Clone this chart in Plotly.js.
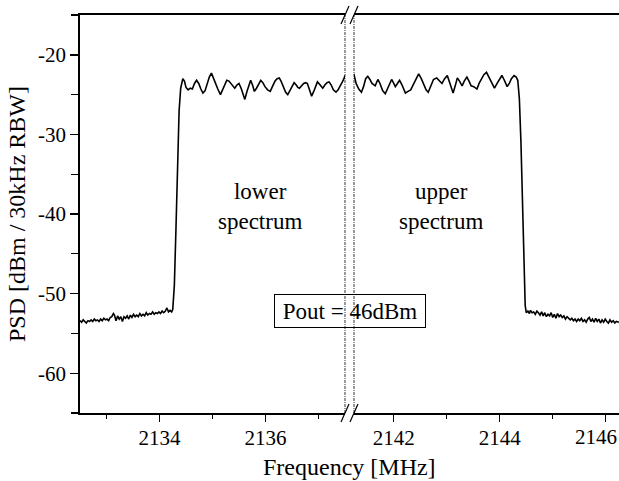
<!DOCTYPE html>
<html>
<head>
<meta charset="utf-8">
<script src="https://cdn.plot.ly/plotly-3.0.1.min.js"></script>
<style>html,body{margin:0;padding:0;background:#fff;}#chart{width:619px;height:481px;}</style>
</head>
<body>
<div id="chart"></div>
<script>
// ---- data ----
const lowerFreq = [
 2132.50,2132.53,2132.56,2132.59,2132.62,2132.65,2132.68,2132.71,2132.74,2132.77,
 2132.80,2132.83,2132.86,2132.89,2132.92,2132.95,2132.98,2133.01,2133.04,2133.07,
 2133.10,2133.13,2133.15,2133.18,2133.21,2133.24,2133.27,2133.30,2133.33,2133.36,
 2133.39,2133.42,2133.45,2133.48,2133.51,2133.54,2133.57,2133.60,2133.63,2133.66,
 2133.69,2133.72,2133.75,2133.78,2133.81,2133.84,2133.87,2133.90,2133.93,2133.96,
 2133.99,2134.02,2134.05,2134.08,2134.11,2134.14,2134.17,2134.20,2134.23,2134.25,
 2134.28,2134.31,2134.34,2134.37,2134.40,2134.42,
 2134.44,2134.47,2134.50,2134.54,2134.58,2134.62,2134.66,2134.70,2134.74,2134.78,
 2134.82,2134.86,2134.90,2134.94,2134.98,2135.02,2135.06,2135.10,2135.15,2135.19,
 2135.23,2135.27,2135.31,2135.35,2135.39,2135.42,2135.46,2135.50,2135.54,2135.58,
 2135.61,2135.65,2135.69,2135.72,2135.76,2135.79,2135.83,2135.87,2135.91,2135.95,
 2135.99,2136.04,2136.09,2136.13,2136.18,2136.22,2136.26,2136.30,2136.34,2136.38,
 2136.42,2136.46,2136.50,2136.54,2136.58,2136.61,2136.64,2136.68,2136.72,2136.76,
 2136.79,2136.83,2136.87,2136.91,2136.95,2136.98,2137.02,2137.06,2137.08,2137.12,
 2137.16,2137.20,2137.24,2137.28,2137.33,2137.37,2137.41,2137.45,2137.48,2137.50
];
const lowerPsd = [
 -53.4,-53.6,-53.3,-53.5,-53.7,-53.4,-53.5,-53.3,-53.5,-53.2,
 -53.4,-53.3,-53.5,-53.2,-53.4,-53.1,-53.3,-53.2,-53.4,-53.0,
 -52.9,-52.5,-52.7,-53.4,-52.8,-53.2,-52.9,-53.5,-52.9,-53.1,
 -52.8,-53.2,-52.7,-53.0,-52.6,-52.9,-52.7,-52.9,-52.5,-52.8,
 -52.6,-52.8,-52.4,-52.7,-52.5,-52.6,-52.3,-52.6,-52.4,-52.5,
 -52.3,-52.5,-52.2,-52.4,-52.2,-51.8,-52.3,-52.1,-52.3,-52.0,
 -49.0,-42.0,-33.0,-27.0,-24.2,-23.3,
 -23.0,-23.3,-24.1,-24.4,-24.2,-24.3,-23.6,-23.2,-23.6,-24.3,
 -24.8,-24.5,-23.6,-22.8,-22.3,-23.0,-23.8,-24.3,-25.0,-24.4,
 -23.6,-23.2,-23.3,-23.6,-24.0,-24.2,-23.8,-23.6,-24.2,-25.1,
 -25.6,-24.6,-23.6,-23.2,-23.9,-24.6,-24.2,-23.6,-23.2,-23.5,
 -24.0,-24.4,-24.6,-24.0,-23.3,-23.0,-22.9,-23.4,-24.1,-24.7,
 -25.0,-24.5,-23.8,-23.5,-23.8,-24.1,-24.2,-23.9,-23.6,-23.5,
 -23.6,-24.4,-25.2,-24.6,-23.8,-23.4,-23.7,-24.1,-24.2,-23.8,
 -23.5,-23.4,-23.8,-24.4,-24.7,-24.4,-23.8,-23.4,-23.0,-22.6
];
const upperFreq = [
 2141.22,2141.25,2141.29,2141.34,2141.39,2141.43,2141.47,2141.51,2141.55,2141.59,
 2141.65,2141.70,2141.74,2141.79,2141.84,2141.88,2141.92,2141.96,2142.00,2142.03,
 2142.07,2142.11,2142.15,2142.19,2142.22,2142.27,2142.32,2142.35,2142.38,2142.43,
 2142.47,2142.52,2142.57,2142.61,2142.65,2142.70,2142.75,2142.81,2142.86,2142.91,
 2142.96,2143.01,2143.05,2143.09,2143.12,2143.16,2143.20,2143.24,2143.29,2143.33,
 2143.38,2143.42,2143.46,2143.51,2143.57,2143.61,2143.66,2143.70,2143.75,2143.79,
 2143.84,2143.90,2143.95,2144.00,2144.04,2144.08,2144.12,2144.14,2144.18,2144.22,
 2144.27,2144.31,2144.34,
 2144.37,2144.40,2144.43,2144.46,2144.48,2144.50,
 2144.53,2144.56,2144.58,2144.61,2144.64,2144.67,2144.70,2144.73,2144.76,2144.79,
 2144.82,2144.85,2144.88,2144.91,2144.94,2144.97,2145.00,2145.03,2145.06,2145.09,
 2145.12,2145.15,2145.18,2145.21,2145.24,2145.27,2145.30,2145.33,2145.36,2145.39,
 2145.42,2145.45,2145.48,2145.51,2145.54,2145.57,2145.60,2145.63,2145.66,2145.69,
 2145.72,2145.75,2145.78,2145.81,2145.84,2145.87,2145.90,2145.93,2145.96,2145.99,
 2146.02,2146.05,2146.08,2146.11,2146.14,2146.17,2146.20,2146.25
];
const upperPsd = [
 -22.6,-22.5,-23.6,-24.3,-24.7,-24.0,-23.0,-22.7,-23.1,-23.6,
 -23.9,-23.1,-23.6,-24.5,-24.9,-24.3,-23.5,-23.1,-23.6,-24.0,
 -23.6,-23.2,-23.7,-24.4,-24.8,-24.6,-24.4,-24.0,-23.6,-22.9,
 -22.4,-23.0,-23.8,-24.4,-24.7,-24.0,-23.1,-22.9,-23.3,-23.6,
 -23.0,-22.6,-23.4,-24.3,-24.8,-23.9,-22.9,-23.3,-23.9,-23.3,
 -22.8,-23.3,-23.9,-24.0,-24.3,-23.6,-22.9,-22.5,-22.2,-22.7,
 -23.5,-24.2,-23.6,-23.0,-22.6,-23.1,-23.7,-24.0,-23.6,-23.0,
 -22.6,-22.8,-23.2,
 -25.5,-31.0,-39.0,-47.0,-51.5,-52.4,
 -52.2,-52.5,-52.1,-52.4,-52.3,-52.6,-52.2,-52.4,-52.7,-52.3,
 -52.8,-52.4,-52.9,-52.6,-52.8,-52.4,-53.0,-52.6,-53.1,-52.5,
 -52.9,-52.7,-53.0,-52.8,-53.2,-52.9,-53.1,-53.3,-53.1,-53.4,
 -53.2,-53.5,-53.2,-53.4,-53.1,-53.5,-53.3,-53.6,-53.2,-53.0,
 -53.5,-53.2,-53.6,-53.1,-53.5,-53.2,-53.7,-53.3,-53.6,-53.2,
 -53.5,-53.7,-53.3,-53.6,-53.4,-53.7,-53.5,-53.6
];
const lowerRange = [2132.5, 2137.5];
const upperRange = [2141.25, 2146.25];
const yRange = [-65, -15];
const xTickVals = [2134, 2136, 2142, 2144, 2146];
const xTickText = ["2134", "2136", "2142", "2144", ""];
const lastTickLabel = "2146";
const yTickVals = [-60, -50, -40, -30, -20];
const yTickText = ["-60", "-50", "-40", "-30", "-20"];
const labelLower = "lower<br>spectrum";
const labelUpper = "upper<br>spectrum";
const labelPout = "Pout = 46dBm";

// ---- layout ----
const FONT = "Liberation Serif, Times New Roman, serif";
const leftEnd = 0.49165, rightStart = 0.50835;

const lineStyle = {color: "#000", width: 1.6};
const traces = [
  {x: lowerFreq, y: lowerPsd, xaxis: "x", yaxis: "y", type: "scatter", mode: "lines", line: lineStyle, hoverinfo: "skip"},
  {x: upperFreq, y: upperPsd, xaxis: "x2", yaxis: "y", type: "scatter", mode: "lines", line: lineStyle, hoverinfo: "skip"}
];

const xCommon = {
  showline: true, linecolor: "#000", linewidth: 1.8, mirror: true,
  ticks: "outside", ticklen: 7, tickwidth: 1.4, tickcolor: "#000",
  tickmode: "array", tickvals: xTickVals, ticktext: xTickText,
  showgrid: false, zeroline: false, ticklabelstandoff: -2,
  tickfont: {family: FONT, size: 21, color: "#000"},
  minor: {dtick: 1, ticks: "outside", ticklen: 4, tickwidth: 1.2, tickcolor: "#000", showgrid: false},
  anchor: "y"
};

function slash(xa, ya) {
  return {type: "line", xref: "paper", yref: "paper",
    xsizemode: "pixel", ysizemode: "pixel", xanchor: xa, yanchor: ya,
    x0: -4, x1: 4, y0: -9, y1: 9, line: {color: "#000", width: 1.2}};
}
function vdash(xa) {
  return {type: "line", xref: "paper", yref: "paper", x0: xa, x1: xa, y0: 0, y1: 1,
    line: {color: "#000", width: 0.8, dash: "3px,1px,1px,1px"}};
}

const layout = {
  width: 619, height: 481,
  margin: {l: 80, r: 0, t: 15, b: 68},
  paper_bgcolor: "#fff", plot_bgcolor: "#fff",
  showlegend: false,
  font: {family: FONT, color: "#000"},
  xaxis: Object.assign({}, xCommon, {domain: [0, leftEnd], range: lowerRange}),
  xaxis2: Object.assign({}, xCommon, {domain: [rightStart, 1], range: upperRange}),
  yaxis: {
    range: yRange, anchor: "x", showline: true, linecolor: "#000", linewidth: 1.8,
    ticks: "outside", ticklen: 8, tickwidth: 1.4, tickcolor: "#000",
    tickmode: "array", tickvals: yTickVals, ticktext: yTickText,
    showgrid: false, zeroline: false,
    tickfont: {family: FONT, size: 21, color: "#000"},
    minor: {dtick: 5, ticks: "outside", ticklen: 7, tickwidth: 1.2, tickcolor: "#000", showgrid: false},
    title: {text: "PSD [dBm / 30kHz RBW]", font: {family: FONT, size: 24, color: "#000"}, standoff: 6}
  },
  annotations: [
    {text: "Frequency [MHz]", xref: "paper", yref: "paper", x: 0.5, y: 0, yshift: -54,
     xanchor: "center", yanchor: "middle", showarrow: false, font: {family: FONT, size: 24, color: "#000"}},
    {text: lastTickLabel, xref: "x2", yref: "paper", x: upperRange[1], y: 0, yshift: -10,
     xanchor: "right", yanchor: "top", showarrow: false, font: {family: FONT, size: 21, color: "#000"}},
    {text: labelLower, xref: "x", yref: "y", x: 2135.9, y: -39.1, showarrow: false,
     font: {family: FONT, size: 23, color: "#000"}},
    {text: labelUpper, xref: "x2", yref: "y", x: 2142.89, y: -39.1, showarrow: false,
     font: {family: FONT, size: 23, color: "#000"}},
    {text: labelPout, xref: "paper", yref: "y", x: 0.501, y: -52.2, showarrow: false,
     font: {family: FONT, size: 23, color: "#000"}, bordercolor: "#000", borderwidth: 1,
     width: 150, height: 32, borderpad: 0}
  ],
  shapes: [
    vdash(leftEnd), vdash(rightStart),
    slash(leftEnd, 0), slash(rightStart, 0), slash(leftEnd, 1), slash(rightStart, 1)
  ]
};

Plotly.newPlot("chart", traces, layout, {staticPlot: true, displayModeBar: false});
</script>
</body>
</html>
